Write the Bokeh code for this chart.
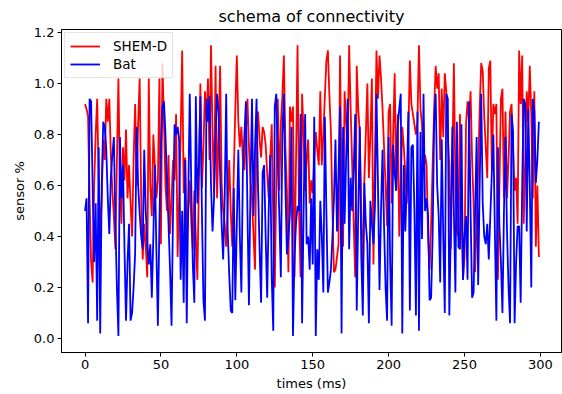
from bokeh.plotting import figure
from bokeh.models import Range1d, Legend, LegendItem, FixedTicker
from bokeh.embed import file_html
from bokeh.resources import INLINE

times = list(range(300))

shem_d = [
    0.92, 0.90, 0.87, 0.55, 0.30, 0.22, 0.60, 0.80, 0.94, 0.62,
    0.40, 0.55, 0.78, 0.70, 0.94, 0.85, 0.94, 0.72, 0.58, 0.48,
    0.35, 0.70, 1.02, 0.60, 0.45, 0.75, 0.62, 0.82, 0.55, 0.68,
    0.53, 0.40, 0.70, 0.92, 0.60, 0.85, 1.02, 0.55, 0.31, 0.45,
    0.36, 0.24, 1.02, 0.60, 0.48, 0.80, 0.68, 0.55, 0.62, 1.02,
    0.37, 1.08, 0.85, 0.60, 0.50, 0.72, 0.41, 0.55, 0.70, 0.62,
    0.88, 0.32, 0.55, 0.80, 1.13, 0.57, 0.71, 0.37, 0.50, 0.62,
    0.45, 0.35, 0.58, 0.40, 0.23, 0.60, 1.00, 0.59, 0.75, 0.97,
    0.85, 1.02, 0.70, 1.15, 0.80, 0.57, 1.07, 0.55, 0.80, 1.07,
    0.61, 0.50, 0.45, 0.36, 0.52, 0.70, 0.50, 0.36, 0.65, 0.90,
    1.11, 0.85, 0.75, 0.83, 0.70, 0.66, 0.80, 0.94, 0.75, 0.62,
    0.55, 0.40, 0.27, 0.85, 0.89, 0.78, 0.71, 0.83, 0.81, 0.76,
    0.65, 0.55, 0.70, 0.84, 0.45, 0.20, 0.60, 0.94, 0.58, 0.84,
    0.95, 1.11, 0.75, 0.58, 0.26, 0.91, 0.85, 0.91, 0.24, 0.70,
    1.15, 0.50, 0.24, 0.96, 0.80, 0.58, 0.70, 0.78, 0.53, 0.62,
    0.57, 0.70, 0.81, 0.74, 0.68, 0.97, 0.68, 0.80, 0.95, 1.09,
    1.13, 0.95, 0.81, 0.50, 0.26, 0.27, 0.32, 0.37, 1.11, 0.60,
    0.36, 0.97, 0.85, 0.75, 1.15, 0.90, 0.68, 0.45, 0.24, 1.07,
    0.90, 0.81, 0.50, 0.22, 0.62, 0.80, 1.00, 0.63, 0.80, 1.02,
    0.29, 0.70, 1.13, 0.94, 1.11, 1.02, 0.90, 0.75, 0.60, 0.44,
    0.89, 0.92, 0.53, 0.80, 1.04, 0.58, 0.88, 0.40, 0.62, 0.83,
    0.75, 0.65, 0.53, 0.80, 1.09, 0.92, 0.88, 0.84, 0.80, 0.85,
    1.15, 0.90, 0.84, 0.65, 0.72, 0.68, 0.40, 0.27, 0.45, 0.68,
    0.90, 1.07, 0.98, 1.04, 0.70, 0.98, 0.79, 1.04, 0.97, 0.80,
    0.68, 0.35, 0.70, 1.08, 0.60, 0.42, 0.40, 0.88, 0.50, 0.23,
    0.32, 0.84, 0.93, 0.85, 0.97, 0.70, 0.53, 0.26, 0.45, 0.66,
    0.90, 1.08, 1.05, 0.87, 0.75, 0.63, 1.06, 1.09, 0.66, 0.92,
    0.88, 0.92, 0.23, 0.60, 0.94, 0.98, 0.55, 0.89, 0.55, 0.70,
    0.89, 0.92, 0.75, 0.58, 0.63, 0.45, 1.13, 0.92, 1.11, 0.45,
    0.70, 0.97, 0.85, 1.07, 0.88, 0.55, 0.97, 0.36, 0.60, 0.32,
]

bat = [
    0.50, 0.55, 0.06, 0.94, 0.93, 0.60, 0.30, 0.53, 0.07, 0.75,
    0.02, 0.60, 0.85, 0.83, 0.74, 0.55, 0.41, 0.63, 0.72, 0.79,
    0.45, 0.20, 0.01, 0.79, 0.55, 0.68, 0.35, 0.07, 0.30, 0.45,
    0.07, 0.10, 0.20, 0.33, 0.83, 0.60, 0.49, 0.40, 0.35, 0.74,
    0.50, 0.37, 0.29, 0.37, 0.16, 0.40, 0.68, 0.35, 0.05, 0.45,
    0.75, 0.91, 0.93, 0.80, 0.61, 0.45, 0.27, 0.05, 0.50, 0.84,
    0.80, 0.83, 0.78, 0.23, 0.50, 0.14, 0.70, 0.06, 0.55, 0.96,
    0.60, 0.29, 0.14, 0.95, 0.53, 0.68, 0.95, 0.50, 0.15, 0.07,
    0.94, 0.85, 0.95, 0.60, 0.42, 0.55, 0.80, 0.96, 0.89, 0.65,
    0.45, 0.31, 0.55, 0.96, 0.42, 0.25, 0.11, 0.10, 0.59, 0.15,
    0.45, 0.74, 0.40, 0.18, 0.66, 0.80, 0.93, 0.50, 0.13, 0.60,
    0.94, 0.48, 0.75, 0.94, 0.59, 0.35, 0.14, 0.65, 0.68, 0.40,
    0.16, 0.50, 0.72, 0.24, 0.03, 0.91, 0.96, 0.70, 0.48, 0.24,
    0.80, 0.96, 0.60, 0.33, 0.40, 0.49, 0.83, 0.01, 0.32, 0.45,
    0.52, 0.50, 0.88, 0.06, 0.50, 0.88, 0.37, 0.40, 0.27, 0.55,
    0.29, 0.87, 0.01, 0.35, 0.23, 0.54, 0.40, 0.18, 0.87, 0.50,
    0.18, 0.22, 0.27, 0.40, 0.55, 0.78, 0.42, 0.65, 0.91, 0.02,
    0.83, 0.45, 0.70, 0.94, 0.35, 0.63, 0.50, 0.66, 0.88, 0.11,
    0.50, 0.83, 0.32, 0.09, 0.61, 0.45, 0.37, 0.06, 0.54, 0.45,
    0.37, 0.52, 0.96, 0.60, 0.19, 0.50, 0.74, 0.44, 0.20, 0.07,
    0.79, 0.30, 0.05, 0.76, 0.65, 0.58, 0.83, 0.90, 0.96, 0.02,
    0.68, 0.42, 0.60, 0.89, 0.11, 0.75, 0.76, 0.50, 0.09, 0.89,
    0.03, 0.81, 0.39, 0.96, 0.50, 0.55, 0.48, 0.15, 0.16, 0.40,
    0.85, 0.96, 0.60, 0.48, 0.22, 0.78, 0.40, 0.10, 0.96, 0.94,
    0.09, 0.44, 0.83, 0.50, 0.18, 0.85, 0.36, 0.35, 0.84, 0.23,
    0.40, 0.48, 0.23, 0.93, 0.50, 0.16, 0.18, 0.50, 0.79, 0.21,
    0.60, 0.96, 0.53, 0.40, 0.37, 0.45, 0.31, 0.48, 0.65, 0.80,
    0.42, 0.07, 0.75, 0.44, 0.30, 0.10, 0.50, 0.79, 0.42, 0.20,
    0.06, 0.88, 0.81, 0.06, 0.30, 0.44, 0.44, 0.14, 0.60, 0.94,
    0.92, 0.42, 0.90, 0.60, 0.20, 0.94, 0.89, 0.61, 0.70, 0.85,
]

x_ticks = [0, 50, 100, 150, 200, 250, 300]
y_ticks = [0.0, 0.2, 0.4, 0.6, 0.8, 1.0, 1.2]

FONT = "DejaVu Sans"
SMALL = "13px"

p = figure(width=562, height=394, output_backend="svg", toolbar_location=None,
           x_range=Range1d(-15.5, 313.9), y_range=Range1d(-0.055, 1.212),
           min_border_left=61, min_border_right=1, min_border_top=29,
           min_border_bottom=42)

p.title.text = "schema of connectivity"
p.title.align = "center"
p.title.text_font = FONT
p.title.text_font_size = "16px"
p.title.text_font_style = "normal"
p.title.text_color = "#000000"
p.title.standoff = 7

p.xgrid.visible = False
p.ygrid.visible = False
p.outline_line_color = "#000000"
p.outline_line_width = 1
p.background_fill_color = "white"
p.border_fill_color = "white"

r1 = p.line(times, shem_d, line_color="#ff0000", line_width=1.8)
r2 = p.line(times, bat, line_color="#0000ff", line_width=1.8)

for ax in (p.xaxis[0], p.yaxis[0]):
    ax.axis_line_color = "#000000"
    ax.major_tick_line_color = "#000000"
    ax.minor_tick_line_color = None
    ax.major_tick_in = 0
    ax.major_tick_out = 4
    ax.major_label_text_font = FONT
    ax.major_label_text_font_size = SMALL
    ax.major_label_text_color = "#000000"
    ax.axis_label_text_font = FONT
    ax.axis_label_text_font_size = SMALL
    ax.axis_label_text_font_style = "normal"
    ax.axis_label_text_color = "#000000"
    ax.major_label_standoff = 3
    ax.axis_label_standoff = 4

p.xaxis[0].ticker = FixedTicker(ticks=x_ticks)
p.yaxis[0].ticker = FixedTicker(ticks=y_ticks)
p.yaxis[0].major_label_overrides = {v: f"{v:.1f}" for v in y_ticks}
p.xaxis[0].axis_label = "times (ms)"
p.yaxis[0].axis_label = "sensor %"

legend = Legend(items=[LegendItem(label="SHEM-D", renderers=[r1]),
                       LegendItem(label="Bat", renderers=[r2])],
                location="top_left")
legend.margin = 3
legend.padding = 5
legend.spacing = 2
legend.glyph_width = 30
legend.glyph_height = 16
legend.label_height = 16
legend.label_standoff = 13
legend.label_text_font = FONT
legend.label_text_font_size = "13.5px"
legend.label_text_color = "#000000"
legend.border_line_color = "#cccccc"
legend.background_fill_alpha = 0.8
p.add_layout(legend)

open("out.html", "w").write(file_html(p, INLINE))
